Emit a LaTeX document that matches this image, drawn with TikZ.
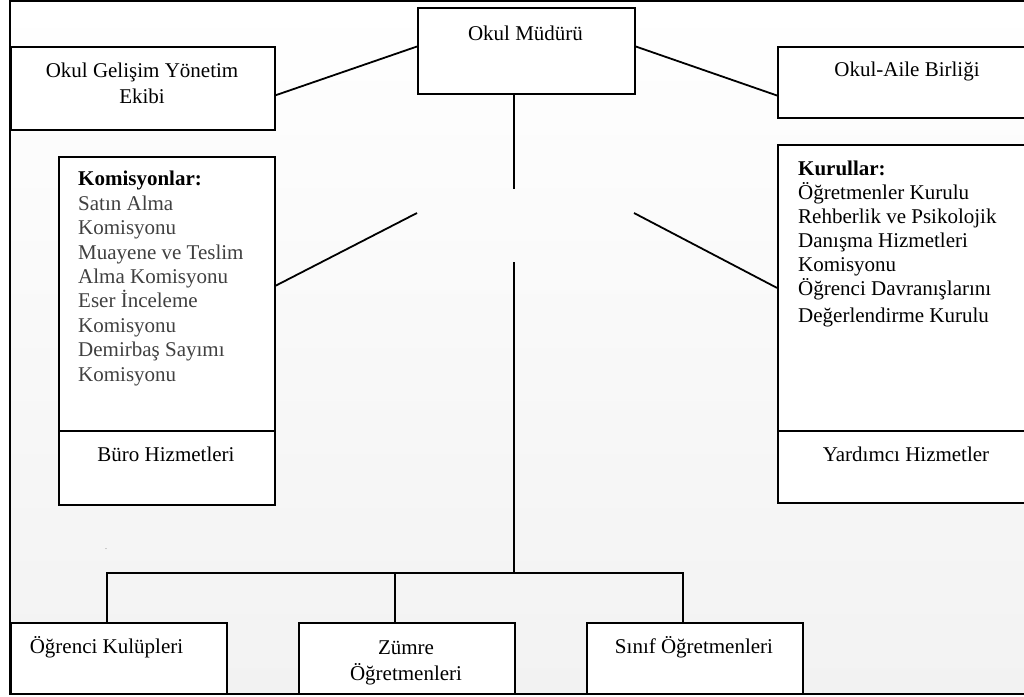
\documentclass[tikz,border=0pt]{standalone}
\usepackage{fontspec}
\setmainfont{Liberation Serif}
\usepackage{xcolor}
\usepackage{tikz}
\usetikzlibrary{positioning,calc}
\definecolor{itemgray}{HTML}{404040}
\definecolor{framegray}{HTML}{F2F2F2}

\begin{document}
\begin{tikzpicture}[x=1pt, y=-1pt,
    box/.style={draw, fill=white, line width=1.8pt, inner sep=0pt, anchor=north west},
    txt/.style={inner sep=0pt, anchor=base, font=\fontsize{21}{24.4}\selectfont},
    list/.style={txt, anchor=base west, align=left},
    link/.style={line width=1.8pt}]
    \useasboundingbox (0,0) rectangle (1024,696);

    % Frame
    \shade[top color=white, bottom color=framegray] (10,1) rectangle (1040,694);
    \draw[line width=1.8pt] (10,1) rectangle (1040,694);

    % Okul Muduru
    \node[box, minimum width=217pt, minimum height=86pt] (mudur) at (417,7) {};
    \node[txt] (mudurT) at (525.5,40) {Okul Müdürü};

    % Okul Gelisim Yonetim Ekibi (base = last line)
    \node[box, minimum width=264pt, minimum height=83pt] (ogye) at (10,46) {};
    \node[txt, align=center] (ogyeT) at (142,103) {Okul Gelişim Yönetim\\[1.5pt]Ekibi};

    % Okul-Aile Birligi
    \node[box, minimum width=260pt, minimum height=71pt] (oab) at (777,46) {};
    \node[txt] (oabT) at (907,76) {Okul-Aile Birliği};

    % Komisyonlar
    \node[box, minimum width=216pt, minimum height=274pt] (komis) at (58,156) {};
    \node[list, text=itemgray] (komisT) at (78,381) {\textcolor{black}{\textbf{Komisyonlar:}}\\Satın Alma\\Komisyonu\\Muayene ve Teslim\\Alma Komisyonu\\Eser İnceleme\\Komisyonu\\Demirbaş Sayımı\\Komisyonu};

    % Buro Hizmetleri
    \node[box, minimum width=216pt, minimum height=74pt] (buro) at (58,430) {};
    \node[txt] (buroT) at (166,461) {Büro Hizmetleri};

    % Kurullar
    \node[box, minimum width=260pt, minimum height=286pt] (kurul) at (777,144) {};
    \node[list, font=\fontsize{21}{24}\selectfont] (kurulT) at (798,322) {\textbf{Kurullar:}\\Öğretmenler Kurulu\\Rehberlik ve Psikolojik\\Danışma Hizmetleri\\Komisyonu\\Öğrenci Davranışlarını\\[3pt]Değerlendirme Kurulu};

    % Yardimci Hizmetler
    \node[box, minimum width=260pt, minimum height=72pt] (yard) at (777,430) {};
    \node[txt] (yardT) at (906,461) {Yardımcı Hizmetler};

    % Bottom row
    \node[box, minimum width=216pt, minimum height=71pt] (okl) at (10,622) {};
    \node[txt] (oklT) at (106.5,653) {Öğrenci Kulüpleri};
    \node[box, minimum width=216pt, minimum height=71pt] (zumre) at (298,622) {};
    \node[txt, align=center] (zumreT) at (406,680) {Zümre\\[1.5pt]Öğretmenleri};
    \node[box, minimum width=216pt, minimum height=71pt] (sinif) at (586,622) {};
    \node[txt] (sinifT) at (694,653) {Sınıf Öğretmenleri};

    \node[inner sep=0pt, font=\fontsize{6}{6}\selectfont] (stray) at (106,549) {.};

    % Connectors
    \coordinate (v1) at (514,189);
    \coordinate (v2) at (514,262);
    \coordinate (bar) at (514,573);
    \coordinate (sl) at (417,213);
    \coordinate (sr) at (634,213);

    \draw[link] ($(mudur.north west)!0.45!(mudur.south west)$) -- ($(ogye.north east)!0.58!(ogye.south east)$);
    \draw[link] ($(mudur.north east)!0.45!(mudur.south east)$) -- ($(oab.north west)!0.68!(oab.south west)$);
    \draw[link] (mudur.south -| v1) -- (v1);
    \draw[link] (v2) -- (bar);
    \draw[link] (sl) -- ($(komis.north east)!0.47!(komis.south east)$);
    \draw[link] (sr) -- (kurul.west);
    \draw[link] ([xshift=-12pt]okl.north) -- ([xshift=-12pt]okl.north |- bar) -- ([xshift=-12pt]sinif.north |- bar) -- ([xshift=-12pt]sinif.north);
    \draw[link] ([xshift=-12pt]zumre.north |- bar) -- ([xshift=-12pt]zumre.north);
\end{tikzpicture}
\end{document}
